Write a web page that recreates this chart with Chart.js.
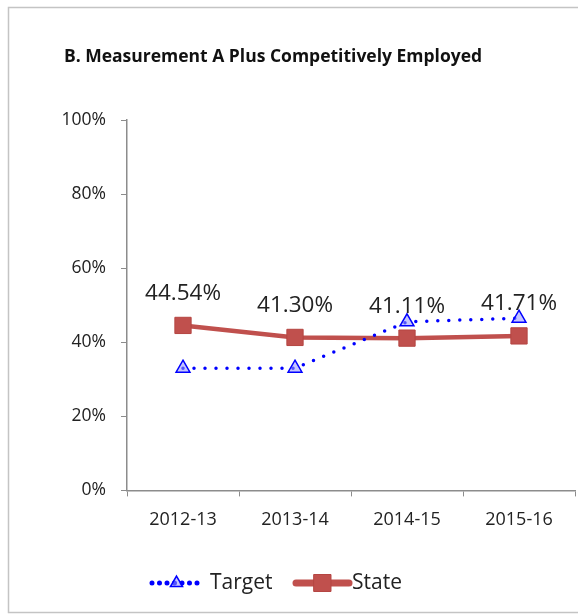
<!DOCTYPE html>
<html>
<head>
<meta charset="utf-8">
<script src="https://cdn.jsdelivr.net/npm/chart.js@4.4.0/dist/chart.umd.min.js"></script>
<style>
  html, body { margin: 0; padding: 0; background: #fff; }
  #wrap { position: relative; width: 578px; height: 616px; }
</style>
</head>
<body>
<div id="wrap"><canvas id="chart" width="578" height="616"></canvas></div>
<script>
// chart data
var chartTitle = "B. Measurement A Plus Competitively Employed";
var years = ["2012-13", "2013-14", "2014-15", "2015-16"];
var target = [33, 33, 45.5, 46.5];
var state = [44.54, 41.30, 41.11, 41.71];
var stateLabels = ["44.54%", "41.30%", "41.11%", "41.71%"];
var yTicks = [0, 20, 40, 60, 80, 100];

var FONT = "'Open Sans', 'Liberation Sans', sans-serif";
var RED = "#c0504d";
var BLUE = "#0000ff";

// frame round the whole picture + the title (office charts centre it a bit left)
var framePlugin = {
	id: "frame",
	beforeDraw: function (chart) {
		var ctx = chart.ctx;
		ctx.save();
		ctx.strokeStyle = "#c4c4c4";
		ctx.lineWidth = 1.5;
		ctx.strokeRect(8.5, 7.5, 600, 605);
		ctx.font = "bold 17.5px " + FONT;
		ctx.fillStyle = "#111";
		ctx.textAlign = "center";
		ctx.textBaseline = "middle";
		ctx.fillText(chartTitle, 273, 57);
		ctx.restore();
	}
};

// percent labels above the State points
var valueLabels = {
	id: "valueLabels",
	afterDatasetsDraw: function (chart) {
		var ctx = chart.ctx;
		var meta = chart.getDatasetMeta(1);
		ctx.save();
		ctx.font = "22.5px " + FONT;
		ctx.fillStyle = "#222";
		ctx.textAlign = "center";
		ctx.textBaseline = "middle";
		meta.data.forEach(function (pt, i) {
			ctx.fillText(stateLabels[i], pt.x, pt.y - 32);
		});
		ctx.restore();
	}
};

// legend drawn like the office one: line with marker in the middle
var lineLegend = {
	id: "lineLegend",
	afterDraw: function (chart) {
		var ctx = chart.ctx;
		var y = 583;
		var items = [
			{ ds: chart.data.datasets[0], x0: 152, x1: 201, tx: 210 },
			{ ds: chart.data.datasets[1], x0: 296, x1: 349, tx: 352 }
		];
		ctx.save();
		items.forEach(function (it) {
			var ds = it.ds;
			ctx.beginPath();
			ctx.strokeStyle = ds.borderColor;
			ctx.lineWidth = ds.legendWidth;
			ctx.lineCap = ds.borderCapStyle || "butt";
			ctx.setLineDash(ds.legendDash || []);
			ctx.moveTo(it.x0, y);
			ctx.lineTo(it.x1, y);
			ctx.stroke();
			ctx.setLineDash([]);
			ctx.fillStyle = ds.pointBackgroundColor;
			ctx.strokeStyle = ds.pointBorderColor;
			ctx.lineWidth = ds.pointBorderWidth;
			Chart.helpers.drawPoint(ctx, {
				pointStyle: ds.pointStyle,
				radius: ds.legendRadius,
				borderWidth: ds.pointBorderWidth,
				rotation: 0
			}, (it.x0 + it.x1) / 2, y);
			ctx.font = "21px " + FONT;
			ctx.fillStyle = "#222";
			ctx.textAlign = "left";
			ctx.textBaseline = "middle";
			ctx.fillText(ds.label, it.tx, y);
		});
		ctx.restore();
	}
};

new Chart(document.getElementById("chart"), {
	type: "line",
	data: {
		labels: years,
		datasets: [
			{
				label: "Target",
				data: target,
				borderColor: BLUE,
				borderWidth: 3.5,
				borderDash: [0, 11],
				legendDash: [0, 7.5],
				legendWidth: 5,
				borderCapStyle: "round",
				pointStyle: "triangle",
				pointRadius: 8,
				legendRadius: 7,
				pointBorderWidth: 1.5,
				pointBorderColor: BLUE,
				pointBackgroundColor: "rgba(150,150,255,0.55)",
				fill: false,
				tension: 0
			},
			{
				label: "State",
				data: state,
				borderColor: RED,
				borderWidth: 4.5,
				legendWidth: 7,
				borderCapStyle: "round",
				pointStyle: "rect",
				pointRadius: 11.5,
				legendRadius: 12,
				pointBorderWidth: 1,
				pointBorderColor: "#b54542",
				pointBackgroundColor: RED,
				fill: false,
				tension: 0
			}
		]
	},
	options: {
		responsive: false,
		animation: false,
		layout: {
			autoPadding: false,
			padding: { left: 0, right: 3, top: 120, bottom: 72 }
		},
		plugins: {
			legend: { display: false },
			tooltip: { enabled: false },
			title: { display: false }
		},
		scales: {
			x: {
				offset: true,
				afterFit: function (scale) {
					scale.paddingLeft = 0;
					scale.paddingRight = 0;
				},
				grid: {
					offset: true,
					drawOnChartArea: false,
					tickLength: 6,
					color: "#8c8c8c"
				},
				border: { color: "#8c8c8c", width: 1.5 },
				ticks: {
					color: "#222",
					font: { family: FONT, size: 18 },
					padding: 13
				}
			},
			y: {
				min: 0,
				max: 100,
				afterBuildTicks: function (scale) {
					scale.ticks = yTicks.map(function (v) { return { value: v }; });
				},
				afterFit: function (scale) { scale.width = 127; },
				grid: {
					drawOnChartArea: false,
					tickLength: 6,
					color: "#8c8c8c"
				},
				border: { color: "#8c8c8c", width: 1.5 },
				ticks: {
					color: "#222",
					font: { family: FONT, size: 17.5 },
					padding: 15,
					callback: function (v) { return v + "%"; }
				}
			}
		}
	},
	plugins: [framePlugin, valueLabels, lineLegend]
});
</script>
</body>
</html>
